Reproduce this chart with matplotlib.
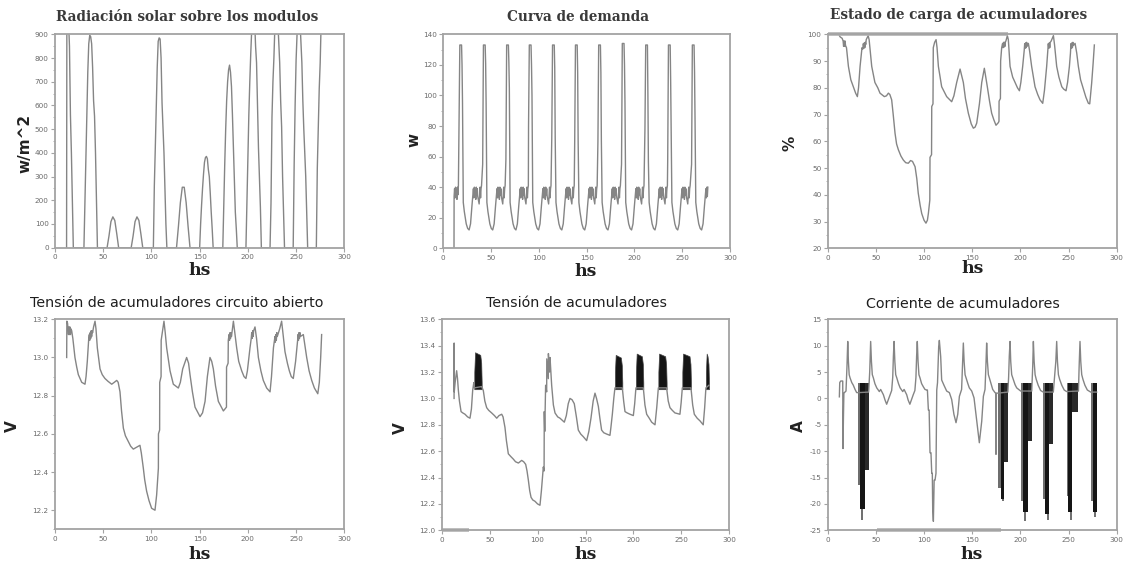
import matplotlib
matplotlib.use("Agg")
import matplotlib.pyplot as plt
from matplotlib.ticker import MultipleLocator, FormatStrFormatter

# ---------------- data (hours, value) ----------------
rad = [(12, 0), (12.3, 950), (13, 1000), (14, 960), (15, 850), (16, 560), (17, 400), (18, 190), (19, 0),
       (30, 0), (31, 180), (32, 380), (33, 560), (34, 740), (35, 860), (36, 895), (37, 890), (38, 860),
       (39, 760), (40, 620), (41, 555), (42, 400), (43, 190), (44, 0),
       (54, 0), (56, 50), (58, 110), (60, 130), (62, 115), (64, 60), (66, 0),
       (79, 0), (81, 50), (83, 110), (85, 130), (87, 115), (89, 60), (91, 0),
       (102, 0), (103, 260), (104, 420), (105, 600), (106, 760), (107, 870), (108, 885), (109, 880),
       (110, 800), (111, 610), (112, 500), (113, 400), (114, 245), (115, 100), (116, 0),
       (126, 0), (128, 90), (130, 190), (132, 255), (134, 255), (136, 190), (138, 90), (140, 0),
       (150, 0), (151, 100), (152, 180), (153, 250), (154, 310), (155, 360), (156, 380), (157, 385),
       (158, 375), (159, 330), (160, 300), (161, 230), (162, 150), (163, 80), (164, 0),
       (174, 0), (175, 180), (176, 350), (177, 500), (178, 620), (179, 700), (180, 750), (181, 770),
       (182, 740), (183, 680), (184, 560), (185, 420), (186, 270), (187, 150), (188, 80), (189, 0),
       (198, 0), (199, 190), (200, 400), (201, 560), (202, 700), (203, 820), (204, 920), (205, 1000),
       (206, 1010), (207, 960), (208, 850), (209, 780), (210, 600), (211, 420), (212, 300), (213, 170), (214, 0),
       (223, 0), (224, 190), (225, 550), (226, 700), (227, 800), (228, 930), (229, 1000), (230, 1010),
       (231, 960), (232, 870), (233, 780), (234, 620), (235, 510), (236, 300), (237, 150), (238, 0),
       (247, 0), (248, 350), (249, 600), (250, 790), (251, 900), (252, 990), (253, 1010), (254, 960),
       (255, 870), (256, 780), (257, 620), (258, 500), (259, 400), (260, 300), (261, 150), (262, 0),
       (271, 0), (272, 335), (273, 500), (274, 670), (275, 780), (276, 950), (277, 1000)]

dem = [(11.2, 0), (11.3, 34), (11.8, 39), (12.3, 33), (12.8, 40), (13.3, 34), (13.8, 38), (14.3, 32), (14.8, 40), (15.3, 35), (15.8, 41),
       (16.5, 84), (17.3, 133), (19.1, 133), (19.6, 120), (20.1, 95), (20.9, 30), (22.0, 24), (24.0, 16), (25.5, 13), (27.0, 12), (28.5, 16), (30.0, 28),
       (31.0, 35), (31.5, 39), (32.0, 33), (32.5, 40), (33.0, 34), (33.5, 38), (34.0, 32), (34.5, 40), (35.0, 35), (35.5, 39), (36.0, 34), (37.5, 29), (38.0, 34), (38.5, 40), (39.0, 33), (39.5, 39), (40.0, 41),
       (41.2, 55), (42.0, 133), (43.8, 133), (44.3, 121), (44.8, 95), (45.6, 30), (46.7, 24), (48.7, 16), (50.2, 13), (51.7, 12), (53.2, 16), (54.7, 28),
       (55.7, 35), (56.2, 39), (56.7, 33), (57.2, 40), (57.7, 34), (58.2, 38), (58.7, 32), (59.2, 40), (59.7, 35), (60.2, 39), (60.7, 34), (62.2, 29), (62.7, 34), (63.2, 40), (63.7, 33), (64.2, 39), (64.7, 41),
       (65.5, 58), (66.3, 133), (68.1, 133), (68.6, 122), (69.1, 105), (69.9, 30), (71.0, 24), (73.0, 16), (74.5, 13), (76.0, 12), (77.5, 16), (79.0, 28),
       (80.0, 35), (80.5, 39), (81.0, 33), (81.5, 40), (82.0, 34), (82.5, 38), (83.0, 32), (83.5, 40), (84.0, 35), (84.5, 39), (85.0, 34), (86.5, 29), (87.0, 34), (87.5, 40), (88.0, 33), (88.5, 39), (89.0, 41),
       (89.2, 80), (90.0, 133), (91.8, 133), (92.3, 120), (92.8, 100), (93.6, 30), (94.7, 24), (96.7, 16), (98.2, 13), (99.7, 12), (101.2, 16), (102.7, 28),
       (103.7, 35), (104.2, 39), (104.7, 33), (105.2, 40), (105.7, 34), (106.2, 38), (106.7, 32), (107.2, 40), (107.7, 35), (108.2, 39), (108.7, 34), (110.2, 29), (110.7, 34), (111.2, 40), (111.7, 33), (112.2, 39), (112.7, 41),
       (113.5, 72), (114.3, 133), (116.1, 133), (116.6, 118), (117.1, 72), (117.9, 30), (119.0, 24), (121.0, 16), (122.5, 13), (124.0, 12), (125.5, 16), (127.0, 28),
       (128.0, 35), (128.5, 39), (129.0, 33), (129.5, 40), (130.0, 34), (130.5, 38), (131.0, 32), (131.5, 40), (132.0, 35), (132.5, 39), (133.0, 34), (134.5, 29), (135.0, 34), (135.5, 40), (136.0, 33), (136.5, 39), (137.0, 41),
       (137.5, 70), (138.3, 133), (140.1, 133), (140.6, 115), (141.1, 70), (141.9, 30), (143.0, 24), (145.0, 16), (146.5, 13), (148.0, 12), (149.5, 16), (151.0, 28),
       (152.0, 35), (152.5, 39), (153.0, 33), (153.5, 40), (154.0, 34), (154.5, 38), (155.0, 32), (155.5, 40), (156.0, 35), (156.5, 39), (157.0, 34), (158.5, 29), (159.0, 34), (159.5, 40), (160.0, 33), (160.5, 39), (161.0, 41),
       (161.8, 70), (162.6, 133), (164.4, 133), (164.9, 115), (165.4, 70), (166.2, 30), (167.3, 24), (169.3, 16), (170.8, 13), (172.3, 12), (173.8, 16), (175.3, 28),
       (176.3, 35), (176.8, 39), (177.3, 33), (177.8, 40), (178.3, 34), (178.8, 38), (179.3, 32), (179.8, 40), (180.3, 35), (180.8, 39), (181.3, 34), (182.8, 29), (183.3, 34), (183.8, 40), (184.3, 33), (184.8, 39), (185.3, 41),
       (186.5, 55), (187.3, 134), (189.1, 134), (189.6, 120), (190.1, 95), (190.9, 30), (192.0, 24), (194.0, 16), (195.5, 13), (197.0, 12), (198.5, 16), (200.0, 28),
       (201.0, 35), (201.5, 39), (202.0, 33), (202.5, 40), (203.0, 34), (203.5, 38), (204.0, 32), (204.5, 40), (205.0, 35), (205.5, 39), (206.0, 34), (207.5, 29), (208.0, 34), (208.5, 40), (209.0, 33), (209.5, 39), (210.0, 41),
       (211.0, 78), (211.8, 133), (213.6, 133), (214.1, 100), (214.6, 57), (215.4, 30), (216.5, 24), (218.5, 16), (220.0, 13), (221.5, 12), (223.0, 16), (224.5, 28),
       (225.5, 35), (226.0, 39), (226.5, 33), (227.0, 40), (227.5, 34), (228.0, 38), (228.5, 32), (229.0, 40), (229.5, 35), (230.0, 39), (230.5, 34), (232.0, 29), (232.5, 34), (233.0, 40), (233.5, 33), (234.0, 39), (234.5, 41),
       (234.8, 57), (235.6, 133), (237.4, 133), (237.9, 110), (238.4, 78), (239.2, 30), (240.3, 24), (242.3, 16), (243.8, 13), (245.3, 12), (246.8, 16), (248.3, 28),
       (249.3, 35), (249.8, 39), (250.3, 33), (250.8, 40), (251.3, 34), (251.8, 38), (252.3, 32), (252.8, 40), (253.3, 35), (253.8, 39), (254.3, 34), (255.8, 29), (256.3, 34), (256.8, 40), (257.3, 33), (257.8, 39), (258.3, 41),
       (259.8, 55), (260.6, 133), (262.4, 133), (262.9, 115), (263.4, 85), (264.2, 30), (265.3, 24), (267.3, 16), (268.8, 13), (270.3, 12), (271.8, 16), (273.3, 28),
       (274.3, 35), (274.8, 39), (275.3, 33), (275.8, 40), (276.3, 34), (276.8, 40)]

soc = [(12.1, 99.5), (13, 99), (15, 98.5), (16, 97.5), (16.5, 95.5), (17, 97.5), (17.5, 95.5), (18, 97.5), (18.5, 95.8),
       (19.5, 95), (21.5, 88), (24, 83), (26.6, 80.4), (29, 78), (30.8, 76.7), (32, 80), (33.6, 88), (35.6, 95),
       (36.5, 94.5), (37, 96.5), (37.5, 94.8), (38, 96.8), (38.5, 95), (39, 97), (39.5, 96.2), (40, 98), (42, 99.5),
       (43, 98), (45.7, 88), (49, 82), (52, 80), (54.3, 78), (58.8, 76.7), (61, 77), (63, 78), (64.5, 77.5),
       (66.4, 75.5), (68, 70), (69.9, 63), (71.5, 59), (73.4, 56.8), (76, 54.5), (78.5, 53), (81, 52), (83.7, 51.8),
       (86, 52.8), (88, 52.5), (90.7, 50.5), (92.5, 46), (94, 40.6), (96, 36), (97.6, 33), (100, 30.5), (102, 29.4),
       (103.5, 30.5), (104.5, 33), (106, 38), (106.2, 54), (107.8, 55), (108, 73), (109.3, 74), (109.6, 95),
       (111, 97), (112.5, 98), (113.5, 95), (114.9, 88), (118.3, 80.4), (123.5, 76.7), (128.7, 74.8), (131, 77),
       (133.9, 82), (137.4, 87), (140.8, 82), (143, 76), (146, 70.5), (149, 66.5), (151.2, 64.9), (153, 65.3),
       (154.7, 66.8), (157.5, 74), (159.9, 82), (162.6, 87.3), (165.7, 80.4), (168, 75), (170.2, 70.5), (172.5, 68),
       (174.7, 66), (177.2, 67), (177.8, 67.5), (177.9, 75), (179.3, 76), (179.5, 90), (180.6, 95), (181.5, 96.5),
       (182, 95), (182.5, 97), (183, 95.2), (183.5, 97), (184, 95.5), (184.5, 97.2), (185, 97.5), (186.5, 99.5),
       (187.5, 98), (189.3, 88), (192, 84), (194.5, 82), (197, 80), (199, 78.9), (200.5, 82), (202.4, 88),
       (204, 94), (204.5, 96.5), (205, 94.8), (205.5, 96.8), (206, 95), (206.5, 97), (207, 95.5), (208.3, 96.6),
       (209.5, 94), (211.7, 88), (215.2, 80.4), (218, 77.5), (220.4, 75.5), (223.2, 74.2), (225, 79), (227.3, 88),
       (228.5, 94), (229, 96.5), (229.5, 94.8), (230, 96.8), (230.5, 95), (231, 97), (232, 97.5), (234.3, 99.5),
       (235.5, 96), (237.7, 88), (240, 84), (243, 80.4), (245, 79.5), (247.4, 78.9), (249, 82), (250.9, 88),
       (252, 93), (252.5, 96.5), (253, 94.8), (253.5, 96.8), (254, 95), (254.5, 97), (255, 95.8), (256.8, 96.6),
       (258.5, 93), (260.2, 88), (262.5, 83), (265.4, 79.5), (268, 76.5), (270.6, 74.2), (272, 74), (274, 81.7),
       (275.5, 89), (276.8, 96)]

ocv = [(12.1, 13.0), (12.3, 13.19), (13, 13.18), (14, 13.12), (14.5, 13.16), (15, 13.12), (15.5, 13.16), (16, 13.12),
       (16.5, 13.15), (17.3, 13.14), (18.5, 13.1), (20.7, 13.0), (22.5, 12.95), (24.2, 12.91), (27.7, 12.87),
       (31.1, 12.86), (32.2, 12.9), (33.5, 12.98), (35, 13.1), (35.6, 13.12), (36, 13.09), (36.5, 13.13), (37, 13.1),
       (37.5, 13.14), (38, 13.11), (38.5, 13.14), (39, 13.13), (40, 13.16), (41.5, 13.19), (42.5, 13.15),
       (43.9, 13.05), (46.7, 12.94), (49, 12.91), (51.8, 12.89), (55, 12.875), (58.8, 12.86), (61.5, 12.87),
       (64, 12.88), (65.5, 12.87), (67.4, 12.82), (69, 12.72), (70.9, 12.63), (73, 12.59), (76, 12.56),
       (78.5, 12.535), (81.2, 12.52), (84.7, 12.53), (88.1, 12.54), (89.5, 12.5), (91.6, 12.42), (93, 12.36),
       (95, 12.3), (97.5, 12.25), (100.2, 12.21), (103.7, 12.2), (105.4, 12.28), (107.2, 12.42), (107.3, 12.6),
       (108.5, 12.62), (108.6, 12.87), (110, 12.9), (110.1, 13.09), (113, 13.19), (114.3, 13.13), (115.8, 13.05),
       (119.3, 12.93), (122.7, 12.86), (127.9, 12.84), (130, 12.87), (132.4, 12.94), (136.5, 13.0), (138.5, 12.97),
       (140, 12.91), (142.5, 12.82), (145.2, 12.74), (150.4, 12.69), (153, 12.71), (155.6, 12.77), (158, 12.9),
       (160.7, 13.0), (162.5, 12.98), (164.2, 12.94), (166.5, 12.85), (169.4, 12.77), (174.6, 12.72), (177.8, 12.74),
       (177.9, 12.95), (179.5, 12.97), (179.7, 13.09), (180.5, 13.12), (181, 13.09), (181.5, 13.13), (182, 13.1),
       (182.5, 13.13), (183, 13.11), (184, 13.15), (185, 13.19), (186, 13.15), (188.4, 13.05), (190.5, 12.98),
       (193.6, 12.93), (196, 12.9), (198, 12.89), (199.5, 12.93), (202.2, 13.05), (203.5, 13.1), (204, 13.13),
       (204.5, 13.1), (205, 13.14), (205.5, 13.11), (206, 13.14), (207.4, 13.16), (209, 13.1), (210.9, 13.0),
       (213.5, 12.93), (216, 12.88), (219.5, 12.84), (223, 12.82), (224.5, 12.9), (226.5, 13.05), (228.1, 13.11),
       (228.5, 13.08), (229, 13.12), (229.5, 13.09), (230, 13.13), (230.5, 13.11), (233, 13.15), (235, 13.19),
       (236.5, 13.12), (238.5, 13.03), (241, 12.97), (243, 12.93), (245, 12.9), (247.1, 12.89), (249.5, 12.98),
       (251.6, 13.09), (252, 13.12), (252.5, 13.09), (253, 13.13), (253.5, 13.1), (254, 13.13), (254.5, 13.11),
       (257.5, 13.12), (259, 13.07), (261, 13.0), (263.5, 12.93), (266.2, 12.88), (269, 12.84), (271.3, 12.82),
       (272.5, 12.81), (274.1, 12.87), (275.5, 13.0), (276.5, 13.12)]

vbat = [(12.9, 13.0), (13.0, 13.42), (13.1, 13.05), (14, 13.12), (15.6, 13.21), (16.5, 13.15), (17.4, 13.06),
        (18.5, 12.98), (20.2, 12.9), (22, 12.89), (24.3, 12.88), (27, 12.86), (29.5, 12.85), (31, 12.92),
        (32.3, 13.06), (33.5, 13.12), (34, 13.08), (41.7, 13.09), (43.4, 13.06), (45, 12.98), (46.9, 12.93),
        (49, 12.91), (52.1, 12.89), (55, 12.87), (57.4, 12.85), (59.8, 12.87), (62.6, 12.88), (64, 12.86),
        (66, 12.78), (67.5, 12.68), (69.5, 12.58), (72, 12.56), (74.7, 12.54), (77, 12.52), (80, 12.51),
        (83.4, 12.53), (85.5, 12.52), (87.6, 12.5), (89, 12.45), (90.4, 12.38), (91.8, 12.3), (93.2, 12.25),
        (95, 12.23), (97.3, 12.22), (100, 12.2), (102.5, 12.19), (104, 12.3), (106, 12.48), (106.8, 12.45),
        (107, 12.9), (107.5, 12.75), (108.4, 13.1), (109.5, 13.05), (109.6, 13.3), (111.2, 13.15), (111.3, 13.34),
        (112.5, 13.2), (113, 13.31), (114.7, 13.1), (116.5, 12.95), (118.2, 12.89), (121, 12.86), (123.4, 12.85),
        (127.9, 12.82), (130, 12.87), (132, 12.96), (133.8, 13.0), (136, 12.99), (138.3, 12.96), (140.5, 12.86),
        (142.5, 12.76), (145, 12.73), (147.7, 12.71), (151.2, 12.68), (153.5, 12.75), (155.7, 12.85), (158, 12.98),
        (159.9, 13.04), (161.5, 13.0), (163.4, 12.94), (165, 12.85), (166.8, 12.76), (169, 12.74), (172, 12.73),
        (175.5, 12.72), (176.5, 12.78), (178, 12.88), (179.5, 13.0), (180.7, 13.08), (188.4, 13.08), (189.8, 12.98),
        (191.2, 12.9), (193.5, 12.89), (196.4, 12.88), (199.9, 12.87), (201.3, 12.96), (202.6, 13.08),
        (210.3, 13.08), (212, 12.95), (213.8, 12.88), (216.5, 12.85), (219, 12.82), (222.5, 12.8), (224.3, 12.93),
        (226, 13.08), (234.6, 13.08), (236.3, 12.98), (238.1, 12.93), (240.5, 12.91), (243.3, 12.89), (246, 12.885),
        (248.5, 12.88), (249.8, 12.97), (251, 13.08), (260, 13.08), (261.8, 12.95), (263.5, 12.88), (266.5, 12.85),
        (269.4, 12.83), (272.8, 12.8), (274.3, 12.93), (275.6, 13.08), (278.8, 13.1)]

# dense regulator switching of battery voltage (dark blocks)
vblk_start = [34.0, 180.7, 202.6, 226.0, 251.0, 275.6]
vblk_end = [41.7, 188.4, 210.3, 234.6, 260.0, 278.8]
vblk_top = [13.35, 13.33, 13.34, 13.34, 13.34, 13.34]
vblk_low = 13.07

cur = [(12.1, 0.3), (12.5, 3.0), (13.5, 3.3), (15.6, 3.3), (15.9, -9.5), (16.3, -4), (16.8, 1.0), (19.0, 1.4),
       (20.0, 6), (20.8, 10.8), (21.5, 7), (22.3, 4.5), (23.2, 3.9), (25, 3), (26.6, 2.5), (28.4, 1.7), (30.1, 1.1),
       (31.8, 1.1), (42.5, 1.2), (43.6, 5), (44.6, 10.8), (45.4, 7), (46.3, 4.5), (47.4, 3.9), (49, 2.8), (50.9, 2),
       (53.6, 1.3), (55, 1.7), (57.8, 0.7), (59.5, -0.3), (61.2, -1.1), (63, -0.2), (64.7, 0.7), (66.4, 1.5),
       (67.5, 4), (68.2, 8), (68.9, 10.8), (69.7, 7), (70.6, 4.5), (71.7, 3.9), (73.5, 2.8), (75.2, 2), (77.9, 1.3),
       (79.3, 1.7), (82, 0.7), (83.5, -0.3), (85.3, -1.1), (87, -0.2), (88.8, 0.7), (90.5, 1.5), (91.6, 4),
       (92.3, 8), (93.0, 10.8), (93.8, 7), (94.7, 4.5), (95.8, 3.9), (97.5, 2.8), (99.3, 2.2), (101, 1.7),
       (102.7, 1.6), (103.5, 1.6), (104.5, -2.2), (105.3, -2.2), (106.2, -10.3), (107.2, -10.3), (108, -14.2),
       (108.6, -14.2), (109, -21), (109.7, -23.3), (110.5, -15.5), (111.4, -15.5), (112.4, -14.2), (113.2, 1.6),
       (114, 3), (115.2, 9.8), (115.9, 11), (117.3, 7.9), (118.3, 3.5), (120.7, 2.5), (123.5, 1.4), (126.3, 1.1),
       (128.7, -0.2), (131, -3), (133.2, -4.6), (135, -3), (136.7, 0.4), (139, 1.7), (139.9, 6), (140.8, 10.5),
       (141.6, 7), (142.6, 4.5), (143.6, 3.9), (145.5, 2.8), (147, 2), (149.5, 1.4), (151.9, 0.1), (154.7, -4.3),
       (157.4, -8.4), (159.9, -4.3), (161.6, 0.4), (163.3, 1.7), (164.2, 6), (165, 10.5), (165.8, 7), (166.8, 4.5),
       (167.8, 3.9), (169.5, 2.8), (171.3, 1.7), (173.7, 1.1), (174.4, 1.0), (174.7, -10.6), (175.1, 1.0),
       (176.5, 1.0), (187.0, 1.2), (187.8, 4), (188.5, 8), (189.3, 10.8), (190, 7), (191, 4.5), (192.7, 3.6),
       (194.5, 2.6), (196.2, 2), (200.3, 1.4), (211.8, 1.4), (212.8, 6), (213.5, 10.8), (214.3, 7), (215.3, 4.5),
       (216.5, 3.6), (218.5, 2.5), (221, 1.5), (223.8, 1.2), (234.2, 1.2), (235.2, 3.5), (236.8, 7), (237.7, 10.8),
       (238.5, 7), (239.5, 4.5), (240.8, 3.6), (243, 2.5), (245.5, 1.6), (248, 1.3), (260.3, 1.4), (261.0, 6),
       (261.9, 10.8), (262.7, 7), (263.7, 4.5), (265, 3.6), (267, 2.5), (269.5, 1.6), (273, 1.2), (279.2, 1.2)]

# dense regulator switching of battery current (blocks from +3 A downwards)
cblk_start = [31.8, 176.5, 200.3, 223.8, 248.0, 273.0]
cblk_split1 = [33.5, 179.5, 202.3, 225.5, 249.8, 275.6]
cblk_split2 = [38.5, 183.0, 207.5, 230.0, 254.0, 279.2]
cblk_end = [42.5, 187.0, 211.8, 234.2, 260.3, 279.2]
cblk_left = [-16.4, -17.0, -19.5, -19.0, -18.5, -19.5]
cblk_mid = [-21.0, -19.0, -21.5, -22.0, -21.6, -21.6]
cblk_right = [-13.6, -12.0, -8.0, -8.6, -2.5, -21.6]
cblk_tip_h = [35.5, 181.5, 204.5, 228.4, 252.4, 277.5]
cblk_tip = [-23.0, -19.5, -23.3, -23.0, -23.0, -22.5]
cblk_top = 3.0

# grey strips lying on the frame
soc_strip = ([0, 187], [100, 100])
vbat_strip = ([0, 28], [12.0, 12.0])
cur_strip = ([51, 180], [-25, -25])

titles = ["Radiación solar sobre los modulos", "Curva de demanda", "Estado de carga de acumuladores",
          "Tensión de acumuladores circuito abierto", "Tensión de acumuladores", "Corriente de acumuladores"]
ylabels = ["w/m^2", "w", "%", "V", "V", "A"]
xlabel = "hs"

# ---------------- figure ----------------
W, H = 1126, 562
fig = plt.figure(figsize=(W / 100, H / 100), dpi=100)
fig.patch.set_facecolor("white")

LINE = "#858585"
SPINE = "#a3a3a3"
DARK = "#151515"


def px_axes(l, t, r, b):
    return fig.add_axes([l / W, 1 - b / H, (r - l) / W, (b - t) / H])


def ftext(x, y, s, **kw):
    fig.text(x / W, 1 - y / H, s, ha="center", va="center", **kw)


boxes = [(55, 34.3, 344.3, 247.7), (443.3, 34.3, 730, 248.3), (827.7, 34.3, 1116.7, 248.3),
         (55, 319.3, 344.3, 529.3), (441.7, 319.3, 729.3, 530.3), (827.7, 319.3, 1116.7, 530.3)]
ylims = [(0, 900), (0, 140), (20, 100), (12.1, 13.2), (12.0, 13.6), (-25, 15)]
ysteps = [100, 20, 10, 0.2, 0.2, 5]
yfmts = ["%d", "%d", "%d", "%.1f", "%.1f", "%d"]

axes = []
for i, b in enumerate(boxes):
    ax = px_axes(*b)
    ax.set_xlim(0, 300)
    ax.set_ylim(*ylims[i])
    ax.xaxis.set_major_locator(MultipleLocator(50))
    ax.yaxis.set_major_locator(MultipleLocator(ysteps[i]))
    ax.yaxis.set_minor_locator(MultipleLocator(ysteps[i] / 2))
    ax.yaxis.set_major_formatter(FormatStrFormatter(yfmts[i]))
    for sp in ax.spines.values():
        sp.set_color(SPINE)
        sp.set_linewidth(1.3)
    ax.tick_params(which="major", length=3, width=0.8, color=SPINE, labelsize=5.2,
                   labelcolor="#6a6a6a", pad=1.5)
    ax.tick_params(which="minor", length=1.8, width=0.6, color=SPINE)
    axes.append(ax)

lw = 1.0


def xy(pairs):
    return [p[0] for p in pairs], [p[1] for p in pairs]


axes[0].plot(*xy(rad), color=LINE, lw=lw)
axes[1].plot(*xy(dem), color=LINE, lw=lw)
axes[2].plot(*xy(soc), color=LINE, lw=lw)
axes[2].plot(*soc_strip, color="#b0b0b0", lw=2.6, clip_on=False, solid_capstyle="butt")
axes[3].plot(*xy(ocv), color=LINE, lw=lw)

ax = axes[4]
ax.plot(*xy(vbat), color=LINE, lw=lw)
for s, e, t in zip(vblk_start, vblk_end, vblk_top):
    xs = [s, s + 0.8, e - 1.5, e - 0.5, e]
    tops = [13.2, t, t - 0.02, t - 0.08, 13.12]
    ax.fill_between(xs, [vblk_low] * len(xs), tops, color=DARK, lw=0.5, edgecolor="#444444")
ax.plot(*vbat_strip, color="#b0b0b0", lw=2.6, clip_on=False, solid_capstyle="butt")

ax = axes[5]
ax.plot(*xy(cur), color=LINE, lw=lw)
for i in range(len(cblk_start)):
    ax.fill_between([cblk_start[i], cblk_split1[i]], cblk_left[i], cblk_top, color="#6e6e6e", lw=0)
    ax.fill_between([cblk_split1[i], cblk_split2[i]], cblk_mid[i], cblk_top, color=DARK, lw=0)
    if cblk_end[i] > cblk_split2[i]:
        ax.fill_between([cblk_split2[i], cblk_end[i]], cblk_right[i], cblk_top, color="#2a2a2a", lw=0)
    ax.vlines(cblk_tip_h[i], cblk_tip[i], cblk_mid[i], color="#555555", lw=1.2)
ax.plot(*cur_strip, color="#b0b0b0", lw=2.6, clip_on=False, solid_capstyle="butt")

# ---------------- texts ----------------
title_pos = [(187.5, 17.3), (578.3, 17), (959, 15.5), (176.7, 302.7), (576.3, 302.7), (962.5, 304)]
for i, (x, y) in enumerate(title_pos):
    if i < 3:
        ftext(x, y, titles[i], fontsize=9.8, family="DejaVu Serif", fontweight="bold", color="#3a3a3a")
    else:
        ftext(x, y, titles[i], fontsize=10.3, family="DejaVu Sans", color="#1e1e1e")

ylab_pos = [(25, 143), (414, 140), (790, 143), (12, 426), (400, 427.7), (798, 426)]
for (x, y), s in zip(ylab_pos, ylabels):
    ftext(x, y, s, fontsize=11, fontweight="bold", rotation=90, color="#222222")

xlab_pos = [(200, 270.7), (586, 271.5), (972.5, 268.5), (200, 554.5), (585.5, 554.5), (972, 554.5)]
for x, y in xlab_pos:
    ftext(x, y, xlabel, fontsize=12.5, fontweight="bold", family="DejaVu Serif", color="#222222")

fig.savefig("out.png", dpi=100, facecolor="white")
